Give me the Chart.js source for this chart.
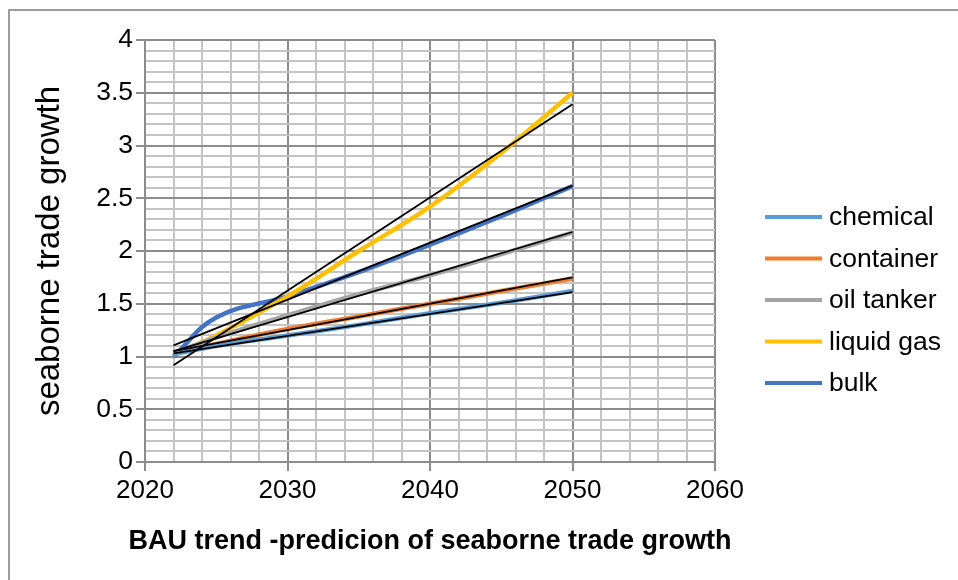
<!DOCTYPE html>
<html>
<head>
<meta charset="utf-8">
<script src="https://cdn.jsdelivr.net/npm/chart.js@4.4.1/dist/chart.umd.min.js"></script>
<style>
  html, body { margin: 0; padding: 0; background: #fff; }
  #wrap { position: relative; width: 958px; height: 580px; overflow: hidden; }
  #frame { position: absolute; left: 8px; top: 9px; width: 1200px; height: 1200px;
           border-left: 2px solid #9c9c9c; border-top: 2px solid #9c9c9c; }
  #c { position: absolute; left: 0; top: 0; }
</style>
</head>
<body>
<div id="wrap">
  <div id="frame"></div>
  <canvas id="c" width="958" height="580"></canvas>
</div>
<script>
// Projection years and growth index per ship segment (2022 = ~1)
const years = [2022, 2025, 2030, 2035, 2040, 2045, 2050];
const seriesNames = ['chemical', 'container', 'oil tanker', 'liquid gas', 'bulk'];
const chemical  = [1.02, 1.10, 1.20, 1.30, 1.41, 1.51, 1.62];
const container = [1.03, 1.12, 1.26, 1.38, 1.50, 1.62, 1.74];
const oilTanker = [1.03, 1.18, 1.39, 1.59, 1.77, 1.97, 2.175];
const liquidGas = [1.02, 1.20, 1.57, 2.00, 2.42, 2.93, 3.50];
const bulk      = [1.00, 1.37, 1.57, 1.80, 2.06, 2.33, 2.615];

// Linear trend lines, start and end value
const trendYears = [2022, 2050];
const chemicalTrend  = [1.03, 1.61];
const containerTrend = [1.05, 1.75];
const oilTankerTrend = [1.05, 2.18];
const liquidGasTrend = [0.917, 3.39];
const bulkTrend      = [1.106, 2.62];

// Axis ticks and titles
const xMin = 2020, xMax = 2060, xStep = 2;
const yMin = 0, yMax = 4, yStep = 0.1;
const xTitle = 'BAU trend -predicion of seaborne trade growth';
const yTitle = 'seaborne trade growth';

const colors = ['#5B9BD5', '#ED7D31', '#A5A5A5', '#FFC000', '#4472C4'];
const FONT = "'Liberation Sans', Arial, Helvetica, sans-serif";

const toPoints = (xs, ys) => xs.map((x, i) => ({ x: x, y: ys[i] }));

const seriesData = [chemical, container, oilTanker, liquidGas, bulk];
const trendData = [chemicalTrend, containerTrend, oilTankerTrend, liquidGasTrend, bulkTrend];

const datasets = [];
seriesData.forEach((vals, i) => {
  datasets.push({
    label: seriesNames[i],
    data: toPoints(years, vals),
    borderColor: colors[i],
    backgroundColor: colors[i],
    borderWidth: 4.5,
    pointRadius: 0,
    tension: 0.4,
    fill: false,
    order: 2
  });
});
trendData.forEach((vals, i) => {
  datasets.push({
    label: seriesNames[i] + ' trend',
    data: toPoints(trendYears, vals),
    borderColor: '#000000',
    borderWidth: 1.8,
    pointRadius: 0,
    tension: 0,
    fill: false,
    order: 1,
    isTrend: true
  });
});

const MAJOR = '#8c8c8c', MINOR = '#c4c4c4';

// Legend on the right (coloured line + name) and the x-axis caption,
// which is allowed to run wider than the plot area
const sideDecor = {
  id: 'sideDecor',
  afterDraw(chart) {
    const ctx = chart.ctx;
    const area = chart.chartArea;
    ctx.save();
    ctx.font = '26.5px ' + FONT;
    ctx.textBaseline = 'middle';
    ctx.textAlign = 'left';
    chart.data.datasets.forEach((ds, i) => {
      if (ds.isTrend) return;
      const y = 217 + i * 41.5;
      ctx.strokeStyle = ds.borderColor;
      ctx.lineWidth = 4;
      ctx.beginPath();
      ctx.moveTo(765, y);
      ctx.lineTo(822, y);
      ctx.stroke();
      ctx.fillStyle = '#000';
      ctx.fillText(ds.label, 829, y + 1);
    });
    ctx.font = 'bold 27px ' + FONT;
    ctx.textAlign = 'center';
    ctx.fillText(xTitle, (area.left + area.right) / 2, 542);
    ctx.restore();
  }
};

new Chart(document.getElementById('c'), {
  type: 'line',
  data: { datasets: datasets },
  plugins: [sideDecor],
  options: {
    responsive: false,
    animation: false,
    layout: { padding: { left: 0, top: 40, right: 243, bottom: 0 } },
    plugins: { legend: { display: false }, tooltip: { enabled: false } },
    scales: {
      x: {
        type: 'linear',
        min: xMin, max: xMax,
        afterFit(scale) { scale.height = 118; },
        ticks: {
          stepSize: xStep,
          autoSkip: false,
          maxRotation: 0,
          padding: 4,
          color: '#000',
          font: { family: FONT, size: 26, lineHeight: 1.2 },
          callback: v => (v % 10 === 0 ? String(v) : '')
        },
        grid: {
          lineWidth: 2,
          tickLength: 9,
          color: c => (c.tick && c.tick.value % 10 === 0 ? MAJOR : MINOR),
          tickColor: c => (c.tick && c.tick.value % 10 === 0 ? MAJOR : 'rgba(0,0,0,0)')
        },
        border: { color: MAJOR, width: 2 },
        title: { display: false }
      },
      y: {
        type: 'linear',
        min: yMin, max: yMax,
        afterFit(scale) { scale.width = 145; },
        ticks: {
          stepSize: yStep,
          autoSkip: false,
          padding: 3,
          color: '#000',
          font: { family: FONT, size: 26.5, lineHeight: 1.2 },
          callback: v => {
            const t = Math.round(v * 10);
            return t % 5 === 0 ? String(t / 10) : '';
          }
        },
        grid: {
          lineWidth: 2,
          tickLength: 9,
          color: c => (c.tick && Math.round(c.tick.value * 10) % 5 === 0 ? MAJOR : MINOR),
          tickColor: c => (c.tick && Math.round(c.tick.value * 10) % 5 === 0 ? MAJOR : 'rgba(0,0,0,0)')
        },
        border: { color: MAJOR, width: 2 },
        title: {
          display: true,
          text: yTitle,
          color: '#000',
          font: { family: FONT, size: 33, lineHeight: 1.2 },
          padding: { top: 30, bottom: 0 }
        }
      }
    }
  }
});
</script>
</body>
</html>
